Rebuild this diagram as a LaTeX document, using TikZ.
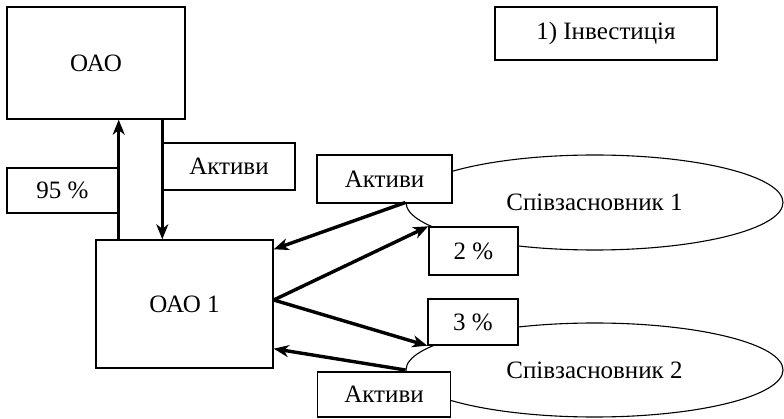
\documentclass[tikz,border=0pt]{standalone}
\usepackage{fontspec}
\setmainfont{Liberation Serif}
\newfontfamily\tms{Liberation Serif}
\usetikzlibrary{shapes.geometric,arrows.meta}
\begin{document}
\begin{tikzpicture}[x=1pt,y=-1pt,
  font=\tms\fontsize{25}{29}\selectfont,
  box/.style={draw,line width=1.4pt,fill=white,inner sep=0pt,
    minimum width=#1},
  oval/.style={draw,line width=1.1pt,ellipse,inner sep=0pt,
    minimum width=377pt,minimum height=95pt},
  arr/.style={line width=3.4pt,-{Stealth[length=15pt,width=12pt,inset=4.5pt]}}]
\useasboundingbox (0,0) rectangle (784,419);
% ellipses first
\node[oval] (s1) at (594.5,202.5) {Співзасновник 1};
\node[oval,minimum height=94pt] (s2) at (594.5,370) {Співзасновник 2};
% boxes
\node[box=178pt,minimum height=112pt] (oao) at (96,63) {ОАО};
\node[box=222pt,minimum height=53pt] (inv) at (606,33.5) {1) Інвестиція};
\node[box=111pt,minimum height=45pt] (p95) at (62.5,190.5) {95 \%};
\node[box=132pt,minimum height=47pt] (akt0) at (229,166.5) {Активи};
\node[box=177pt,minimum height=128pt] (oao1) at (184.5,304) {ОАО 1};
\node[box=135pt,minimum height=48pt] (akt1) at (384.5,179) {Активи};
\node[box=89pt,minimum height=48pt] (p2) at (473.5,251) {2 \%};
\node[box=90pt,minimum height=46pt] (p3) at (473,322) {3 \%};
\node[box=133pt,minimum height=45pt] (akt2) at (384,394.5) {Активи};
% vertical arrows
\draw[arr] (oao1.north -| p95.east) -- (oao.south -| p95.east);
\draw[arr] (oao.south -| akt0.west) -- (oao1.north -| akt0.west);
% side arrows
\draw[arr] (s1.west) -- ([yshift=-10pt]oao1.north east);
\draw[arr] ([yshift=4pt]oao1.east) -- (p2.north west);
\draw[arr] ([yshift=4pt]oao1.east) -- (p3.south west);
\draw[arr] (s2.west) -- ([yshift=20pt]oao1.south east);
\end{tikzpicture}
\end{document}
